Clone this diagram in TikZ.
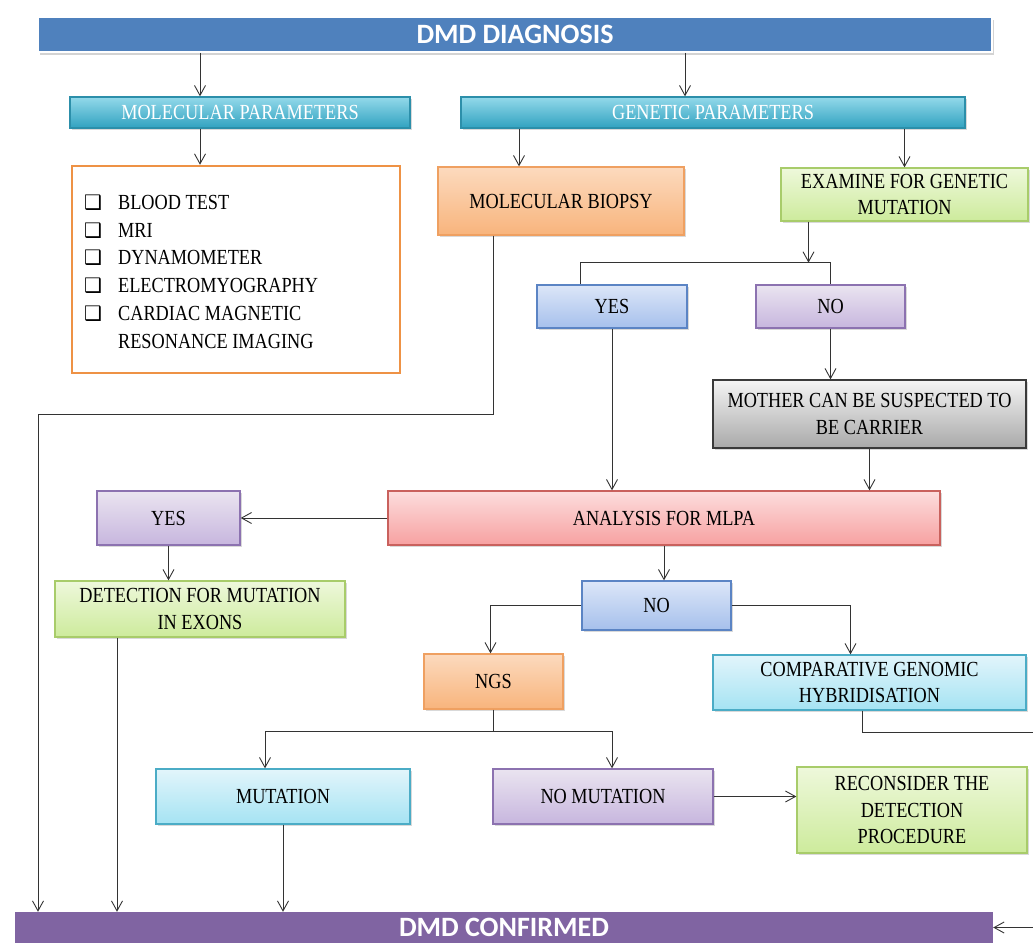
\documentclass[tikz,border=0pt]{standalone}
\usepackage{fontspec}
\setmainfont{Liberation Serif}[FakeStretch=0.85]
\newfontfamily\headfont{Carlito}
\newfontfamily\symbfont{DejaVu Sans}
\usepackage{tikz}
\usetikzlibrary{calc, arrows.meta, shadows}

\definecolor{headblue}{HTML}{4F81BD}
\definecolor{headpurple}{HTML}{8064A2}
\definecolor{tealtop}{HTML}{93D9EA}
\definecolor{tealbot}{HTML}{31A2C0}
\definecolor{tealline}{HTML}{2C8FAA}
\definecolor{orangetop}{HTML}{FCDABE}
\definecolor{orangebot}{HTML}{F8B47C}
\definecolor{orangeline}{HTML}{EFA061}
\definecolor{listline}{HTML}{EE9245}
\definecolor{greentop}{HTML}{EEF8DB}
\definecolor{greenbot}{HTML}{CDEB9C}
\definecolor{greenline}{HTML}{A8CC6A}
\definecolor{bluetop}{HTML}{DCE6F8}
\definecolor{bluebot}{HTML}{A6C0EC}
\definecolor{blueline}{HTML}{5B84C4}
\definecolor{lavtop}{HTML}{EAE4F0}
\definecolor{lavbot}{HTML}{C7B6DE}
\definecolor{lavline}{HTML}{8C72B0}
\definecolor{graytop}{HTML}{F4F4F4}
\definecolor{graybot}{HTML}{A9A9A9}
\definecolor{grayline}{HTML}{3A3A3A}
\definecolor{pinktop}{HTML}{FCDDDD}
\definecolor{pinkbot}{HTML}{F7A1A1}
\definecolor{pinkline}{HTML}{C9615D}
\definecolor{cyantop}{HTML}{E2F5FB}
\definecolor{cyanbot}{HTML}{A5E3F3}
\definecolor{cyanline}{HTML}{4BACC6}

\newcommand{\tickbox}{{\symbfont\fontsize{20}{20}\selectfont ❑}}

\begin{document}
\begin{tikzpicture}[x=1pt,y=-1pt,>={Straight Barb[length=10pt,width=11pt]},
  conn/.style={draw=black!80,line width=0.9pt},
  flowbox/.style={draw,line width=1.3pt,inner sep=2pt,align=center,
    font=\fontsize{21.5}{26.5}\selectfont,
    drop shadow={shadow xshift=1.5pt,shadow yshift=-2pt,opacity=0.3}},
  tealbar/.style={flowbox,draw=tealline,top color=tealtop,bottom color=tealbot,text=white},
  orangebox/.style={flowbox,draw=orangeline,top color=orangetop,bottom color=orangebot},
  greenbox/.style={flowbox,draw=greenline,top color=greentop,bottom color=greenbot},
  bluebox/.style={flowbox,draw=blueline,top color=bluetop,bottom color=bluebot},
  lavbox/.style={flowbox,draw=lavline,top color=lavtop,bottom color=lavbot},
  graybox/.style={flowbox,draw=grayline,top color=graytop,bottom color=graybot},
  pinkbox/.style={flowbox,draw=pinkline,top color=pinktop,bottom color=pinkbot},
  cyanbox/.style={flowbox,draw=cyanline,top color=cyantop,bottom color=cyanbot},
  headbar/.style={inner sep=0,text=white,font=\headfont\bfseries\fontsize{28}{28}\selectfont}
]
\useasboundingbox (0,0) rectangle (1033,945);

% top and bottom bars
\node[headbar,fill=headblue,draw=white,line width=1.5pt,
  drop shadow={shadow xshift=1.5pt,shadow yshift=-2.5pt,opacity=0.35},
  minimum width=954,minimum height=35] (diag) at (515,34.5) {DMD DIAGNOSIS};
\node[headbar,fill=headpurple,minimum width=978,minimum height=31] (confirmed) at (504,927.5) {DMD CONFIRMED};

% parameters
\node[tealbar,minimum width=340,minimum height=31] (molpar) at (240,112.5) {MOLECULAR PARAMETERS};
\node[tealbar,minimum width=504,minimum height=31] (genpar) at (713,112.5) {GENETIC PARAMETERS};

% molecular tests
\node[draw=listline,line width=2.5pt,fill=white,minimum width=328,minimum height=207] (tests) at (236,269.5) {};
\node[anchor=north west,inner sep=0,font=\fontsize{21.5}{27.7}\selectfont] (testlist) at (84,190)
  {\begin{tabular}{@{}l@{\hspace{16pt}}l@{}}
    \tickbox & BLOOD TEST\\
    \tickbox & MRI\\
    \tickbox & DYNAMOMETER\\
    \tickbox & ELECTROMYOGRAPHY\\
    \tickbox & CARDIAC MAGNETIC\\
             & RESONANCE IMAGING
  \end{tabular}};

% genetic branch
\node[orangebox,minimum width=246,minimum height=68] (biopsy) at (561,201) {MOLECULAR BIOPSY};
\node[greenbox,minimum width=247,minimum height=53] (examine) at (904.5,194.5) {EXAMINE FOR GENETIC\\MUTATION};
\node[bluebox,minimum width=150,minimum height=43] (yes1) at (612,306.5) {YES};
\node[lavbox,minimum width=149,minimum height=43] (no1) at (830.5,306.5) {NO};
\node[graybox,minimum width=313,minimum height=68] (mother) at (869.5,414) {MOTHER CAN BE SUSPECTED TO\\BE CARRIER};
\node[pinkbox,minimum width=552,minimum height=54] (mlpa) at (664,518) {ANALYSIS FOR MLPA};
\node[lavbox,minimum width=143,minimum height=54] (yes2) at (168.5,518) {YES};
\node[greenbox,minimum width=290,minimum height=56] (detect) at (200,609) {DETECTION FOR MUTATION\\IN EXONS};
\node[bluebox,minimum width=149,minimum height=49] (no2) at (656.5,605.5) {NO};
\node[orangebox,minimum width=139,minimum height=55] (ngs) at (493.5,681.5) {NGS};
\node[cyanbox,minimum width=313,minimum height=55] (cgh) at (869.5,682.5) {COMPARATIVE GENOMIC\\HYBRIDISATION};
\node[cyanbox,minimum width=254,minimum height=55] (mut) at (283,796.5) {MUTATION};
\node[lavbox,minimum width=220,minimum height=55] (nomut) at (603,796.5) {NO MUTATION};
\node[greenbox,minimum width=230,minimum height=86] (recon) at (912,810) {RECONSIDER THE\\DETECTION\\PROCEDURE};

% connectors
\draw[conn,->] ([xshift=-40]molpar.north |- diag.south) -- ([xshift=-40]molpar.north);
\draw[conn,->] ([xshift=-28]genpar.north |- diag.south) -- ([xshift=-28]genpar.north);
\draw[conn,->] ([xshift=-40]molpar.south) -- ([xshift=-40]molpar.south |- tests.north);
\draw[conn,->] ([xshift=-42]biopsy.north |- genpar.south) -- ([xshift=-42]biopsy.north);
\draw[conn,->] (examine.north |- genpar.south) -- (examine.north);

\draw[conn,->] ([xshift=-96]examine.south) -- ++(0,41) coordinate (exfork);
\draw[conn] (exfork) -| ([xshift=-32]yes1.north);
\draw[conn] (exfork) -| (no1.north);
\draw[conn,->] (no1.south) -- (no1.south |- mother.north);
\draw[conn,->] (yes1.south) -- (yes1.south |- mlpa.north);
\draw[conn,->] (mother.south) -- (mother.south |- mlpa.north);

\coordinate (leftrail) at (38,414);
\draw[conn,->] ([xshift=-68]biopsy.south) |- (leftrail) -- (leftrail |- confirmed.north);

\draw[conn,->] (mlpa.west) -- (yes2.east);
\draw[conn,->] (yes2.south) -- (yes2.south |- detect.north);
\draw[conn,->] ([xshift=-83]detect.south) -- ([xshift=-83]detect.south |- confirmed.north);

\draw[conn,->] (mlpa.south) -- (mlpa.south |- no2.north);
\draw[conn,->] (no2.west) -| ([xshift=-3]ngs.north);
\draw[conn,->] (no2.east) -| ([xshift=-19]cgh.north);
\draw[conn,->] ([xshift=-7]cgh.south) |- (1050,732) |- (confirmed.east);

\draw[conn] (ngs.south) -- ++(0,22) coordinate (ngsfork);
\draw[conn,->] (ngsfork) -| ([xshift=-18]mut.north);
\draw[conn,->] (ngsfork) -| ([xshift=9]nomut.north);
\draw[conn,->] (nomut.east) -- (nomut.east -| recon.west);
\draw[conn,->] (mut.south) -- (mut.south |- confirmed.north);
\end{tikzpicture}
\end{document}
